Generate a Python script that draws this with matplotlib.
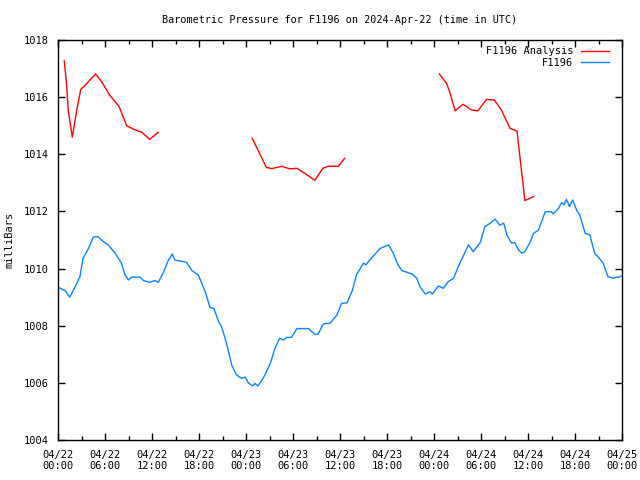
import matplotlib
matplotlib.use("Agg")
import matplotlib.pyplot as plt
import matplotlib.dates as mdates
import numpy as np
from datetime import datetime, timedelta

start = datetime(2024, 4, 22, 0, 0)

# Analysis segments (hours since start, mbar)
ana1_h = [0.8, 1.1, 1.3, 1.83, 2.4, 2.9, 3.36, 4.08, 4.8, 5.57, 6.6, 7.8, 8.77, 9.6, 10.7, 11.7, 12.8]
ana1_v = [1017.27, 1016.43, 1015.55, 1014.6, 1015.55, 1016.27, 1016.39, 1016.6, 1016.81, 1016.54,
          1016.07, 1015.67, 1015.0, 1014.88, 1014.77, 1014.52, 1014.77]
ana2_h = [24.8, 26.6, 27.3, 28.56, 29.6, 30.5, 31.5, 32.8, 33.8, 34.5, 35.8, 36.6]
ana2_v = [1014.56, 1013.54, 1013.5, 1013.58, 1013.49, 1013.51, 1013.33, 1013.09, 1013.51, 1013.58,
          1013.58, 1013.86]
ana3_h = [48.7, 49.6, 50.0, 50.7, 51.7, 52.8, 53.6, 54.7, 55.7, 56.6, 57.7, 58.6, 59.6, 60.7]
ana3_v = [1016.81, 1016.48, 1016.19, 1015.52, 1015.75, 1015.55, 1015.52, 1015.92, 1015.9, 1015.55,
          1014.91, 1014.81, 1012.38, 1012.52]

# Observed F1196 (hours since start, mbar)
obs_h = [0.0, 0.26, 0.9, 1.5, 2.2, 2.8, 3.2, 3.9, 4.5, 5.1, 5.8, 6.4, 7.3, 8.1, 8.55, 9.0, 9.4, 10.5,
         10.9, 11.7, 12.4, 12.8, 13.4, 14.1, 14.6, 14.9, 16.4, 17.1, 17.9, 18.8, 19.4, 19.9, 20.5,
         20.9, 21.5, 22.2, 22.8, 23.4, 23.9, 24.3, 24.85, 25.15, 25.5, 26.2, 27.1, 27.7, 28.3, 28.8,
         29.2, 29.8, 30.5, 32.0, 32.4, 32.8, 33.2, 33.8, 34.1, 34.7, 35.6, 36.2, 36.9, 37.6, 38.1,
         39.0, 39.3, 39.8, 41.1, 42.2, 42.8, 43.4, 43.9, 45.2, 45.8, 46.2, 46.9, 47.5, 47.8, 48.55,
         49.2, 49.8, 50.5, 51.1, 51.7, 52.4, 53.0, 53.9, 54.5, 55.2, 55.8, 56.4, 56.9, 57.3, 57.9,
         58.3, 58.8, 59.2, 59.6, 60.3, 60.7, 61.35, 62.2, 63.0, 63.2, 63.9, 64.3, 64.6, 64.9, 65.3,
         65.7, 66.2, 66.6, 67.3, 67.9, 68.5, 69.1, 69.6, 70.2, 70.9, 71.3, 71.6, 72.0]
obs_v = [1009.35, 1009.31, 1009.23, 1009.0, 1009.37, 1009.72, 1010.36, 1010.71, 1011.1, 1011.12,
         1010.94, 1010.83, 1010.54, 1010.19, 1009.78, 1009.6, 1009.7, 1009.7, 1009.58, 1009.52,
         1009.58, 1009.52, 1009.83, 1010.3, 1010.51, 1010.3, 1010.22, 1009.93, 1009.78, 1009.19,
         1008.64, 1008.6, 1008.15, 1007.95, 1007.4, 1006.6, 1006.28, 1006.16, 1006.2, 1006.0, 1005.89,
         1005.98, 1005.89, 1006.16, 1006.68, 1007.21, 1007.56, 1007.5, 1007.59, 1007.59, 1007.9,
         1007.9, 1007.79, 1007.7, 1007.7, 1008.03, 1008.08, 1008.08, 1008.37, 1008.78, 1008.8,
         1009.25, 1009.78, 1010.19, 1010.13, 1010.3, 1010.7, 1010.83, 1010.54, 1010.13, 1009.93,
         1009.81, 1009.66, 1009.37, 1009.11, 1009.19, 1009.11, 1009.39, 1009.31, 1009.54, 1009.66,
         1010.07, 1010.42, 1010.83, 1010.59, 1010.91, 1011.47, 1011.59, 1011.73, 1011.52, 1011.59,
         1011.18, 1010.89, 1010.91, 1010.65, 1010.54, 1010.59, 1010.94, 1011.23, 1011.35, 1011.99,
         1011.99, 1011.91, 1012.11, 1012.31, 1012.23, 1012.42, 1012.17, 1012.4, 1012.05, 1011.88,
         1011.23, 1011.18, 1010.54, 1010.36, 1010.19, 1009.72, 1009.66, 1009.7, 1009.7, 1009.75]

def to_dt(hs):
    return [start + timedelta(hours=h) for h in hs]

plt.rcParams['font.family'] = ['DejaVu Sans Mono']
plt.rcParams['font.size'] = 7

fig = plt.figure(figsize=(6.4, 4.8), dpi=100)
ax = fig.add_axes([58/640, 1-440/480, 564/640, 400/480])

red = '#ff0000'
blue = '#0a84ff'
ax.plot(to_dt(ana1_h), ana1_v, color=red, lw=1, label='F1196 Analysis')
ax.plot(to_dt(ana2_h), ana2_v, color=red, lw=1)
ax.plot(to_dt(ana3_h), ana3_v, color=red, lw=1)
ax.plot(to_dt(obs_h), obs_v, color=blue, lw=1, label='F1196')

ax.set_xlim(start, start + timedelta(hours=72))
ax.set_ylim(1004, 1018)
ax.set_yticks(np.arange(1004, 1019, 2))
ax.xaxis.set_major_locator(mdates.HourLocator(byhour=[0, 6, 12, 18]))
ax.xaxis.set_minor_locator(mdates.HourLocator(byhour=[3, 9, 15, 21]))
ax.xaxis.set_major_formatter(mdates.DateFormatter('%m/%d\n%H:%M'))
ax.tick_params(which='both', direction='in', top=True, right=True, labelsize=7.5)
ax.tick_params(which='major', length=5, width=1, pad=7)
ax.tick_params(which='minor', length=3, width=1)
for s in ax.spines.values():
    s.set_linewidth(1)

ax.set_ylabel('milliBars', fontsize=7.5, labelpad=6)
ax.set_title('Barometric Pressure for F1196 on 2024-Apr-22 (time in UTC)', fontsize=7.3, pad=12)

leg = ax.legend(loc='upper right', bbox_to_anchor=(1 - 7/564, 1), frameon=False,
                markerfirst=False, fontsize=7.5,
                handlelength=2.7, handletextpad=0.7, labelspacing=0.15,
                borderaxespad=0.2)

fig.savefig('out.png', dpi=100)
